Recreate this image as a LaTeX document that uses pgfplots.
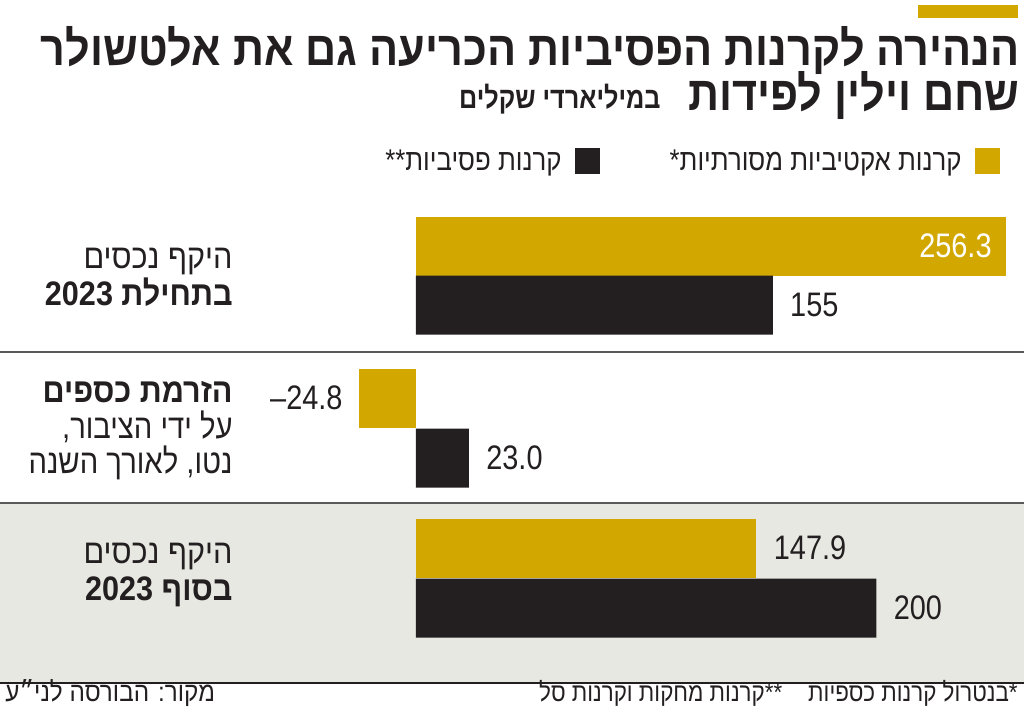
\documentclass[border=0pt]{standalone}
\usepackage{pgfplots}
\pgfplotsset{compat=1.18}
\usepackage{fontspec}
\setmainfont{Liberation Sans}
\newfontfamily\heb[Script=Hebrew,FakeStretch=0.86]{Liberation Sans}
\newfontfamily\hebl[Script=Hebrew,FakeStretch=0.9]{Liberation Sans}
\newfontfamily\hebt[Script=Hebrew,FakeStretch=0.9]{Liberation Sans}
\newfontfamily\hebs[Script=Hebrew,FakeStretch=0.84]{Liberation Sans}
\newfontfamily\numf[FakeStretch=0.85]{Liberation Sans}
\TeXXeTstate=1
\definecolor{gold}{RGB}{210,168,0}
\definecolor{blk}{RGB}{35,31,32}
\definecolor{bg}{RGB}{232,232,227}
\definecolor{sep}{RGB}{90,90,90}
\begin{document}
\begin{tikzpicture}[x=0.5pt,y=-0.5pt]
\path[use as bounding box] (0,0) rectangle (1024,713);
\fill[bg] (0,503) rectangle (1024,683);
\draw[sep, line width=0.6pt] (0,352) -- (1024,352);
\draw[sep, line width=0.6pt] (0,503) -- (1024,503);
\draw[blk, line width=1.3pt] (0,683) -- (1024,683);
\fill[gold] (918,5) rectangle (1018,18);
% title
\node[anchor=base east, inner sep=0, text=blk] at (1020,65)
  {\fontsize{24}{24}\selectfont\hebt\bfseries\beginR הנהירה לקרנות הפסיביות הכריעה גם את אלטשולר\endR};
\node[anchor=base east, inner sep=0, text=blk] at (1020,110)
  {\fontsize{24}{24}\selectfont\hebt\bfseries\beginR שחם וילין לפידות\endR};
\node[anchor=base east, inner sep=0, text=blk] at (661,108)
  {\fontsize{15}{15}\selectfont\hebs\bfseries\beginR במיליארדי שקלים\endR};
% legend
\fill[gold] (975,148) rectangle (1000,174);
\node[anchor=base east, inner sep=0, text=blk] at (962,170)
  {\fontsize{15}{15}\selectfont\heb\beginR קרנות אקטיביות מסורתיות*\endR};
\fill[blk] (575,148) rectangle (600,174);
\node[anchor=base east, inner sep=0, text=blk] at (562,170)
  {\fontsize{15}{15}\selectfont\heb\beginR קרנות פסיביות**\endR};
% category labels
\begin{scope}[every node/.style={anchor=base east, inner sep=0, text=blk}]
\node at (233,268) {\fontsize{17}{17}\selectfont\hebl\beginR היקף נכסים\endR};
\node at (233,305) {\fontsize{17}{17}\selectfont\hebl\bfseries\beginR בתחילת 2023\endR};
\node at (233,402) {\fontsize{17}{17}\selectfont\hebl\bfseries\beginR הזרמת כספים\endR};
\node at (233,438) {\fontsize{17}{17}\selectfont\heb\beginR על ידי הציבור,\endR};
\node at (233,473) {\fontsize{17}{17}\selectfont\heb\beginR נטו, לאורך השנה\endR};
\node at (233,563) {\fontsize{17}{17}\selectfont\hebl\beginR היקף נכסים\endR};
\node at (233,600) {\fontsize{17}{17}\selectfont\hebl\bfseries\beginR בסוף 2023\endR};
\end{scope}
% footer
\node[anchor=base east, inner sep=0, text=blk] at (1018,701)
  {\fontsize{13}{13}\selectfont\heb\beginR *בנטרול קרנות כספיות\quad **קרנות מחקות וקרנות סל\endR};
\node[anchor=base west, inner sep=0, text=blk] at (5,701)
  {\fontsize{13.5}{13.5}\selectfont\hebl\beginR מקור: הבורסה לני״ע\endR};
\begin{axis}[at={(0,713)}, anchor=south west, scale only axis,
  width=512pt, height=356.5pt, hide axis,
  xmin=-180.71, xmax=264.12, ymin=0, ymax=713, y dir=reverse,
  xbar, bar width=59, clip=false,
  point meta=explicit symbolic, nodes near coords,
  every node near coord/.append style={font=\fontsize{17}{17}\selectfont\numf, text=blk, inner sep=0pt}]
\addplot[fill=gold, draw=none, bar shift=0pt,
  nodes near coords style={anchor=east, text=white, xshift=-7pt}]
  coordinates {(256.3,246) [256.3]};
\addplot[fill=gold, draw=none, bar shift=0pt,
  nodes near coords style={anchor=east, xshift=-8pt}]
  coordinates {(-24.8,398) [–24.8]};
\addplot[fill=gold, draw=none, bar shift=0pt,
  nodes near coords style={anchor=west, xshift=8.5pt}]
  coordinates {(147.9,548) [147.9]};
\addplot[fill=blk, draw=none, bar shift=0pt,
  nodes near coords style={anchor=west, xshift=8.5pt}]
  coordinates {(155,305) [155] (23.0,458) [23.0] (200,608) [200]};
\end{axis}
\end{tikzpicture}
\end{document}
